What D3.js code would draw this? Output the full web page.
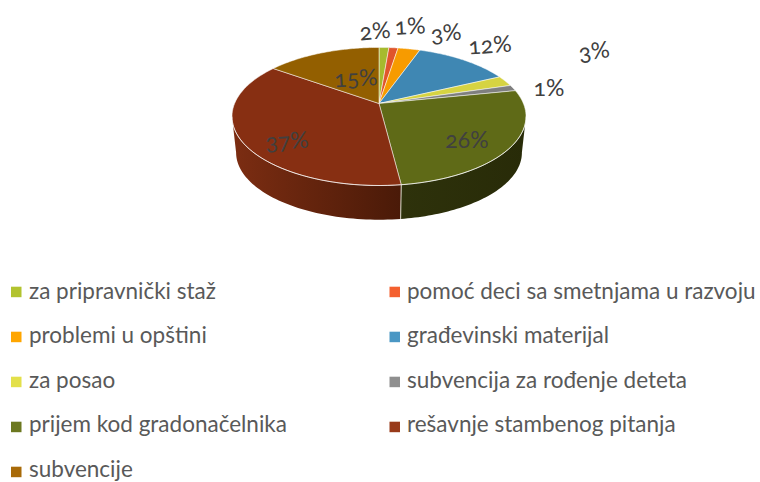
<!DOCTYPE html>
<html><head><meta charset="utf-8">
<script src="https://cdn.jsdelivr.net/npm/d3@7"></script>
<style>html,body{margin:0;padding:0;background:#fff}svg{display:block}
text{font-family:Lato,"Open Sans",sans-serif;font-variant-numeric:oldstyle-nums}</style>
</head><body><svg id="c" width="760" height="482"></svg>
<script>
const categories=["za pripravnički staž","pomoć deci sa smetnjama u razvoju","problemi u opštini","građevinski materijal","za posao","subvencija za rođenje deteta","prijem kod gradonačelnika","rešavnje stambenog pitanja","subvencije"];
const shares=[1.3,1.2,2.9,12.5,2.5,1.4,26.2,36.9,15.1];
const pctLabels=["2%","1%","3%","12%","3%","1%","26%","37%","15%"];
const faceColors=["#a6ba2e","#e0552b","#f79b00","#3f87b3","#d6d342","#7f7f7f","#5f6a17","#872f12","#935f00"];
const legendColors=["#b2c32f","#f4602f","#ffa600","#4a97c4","#e3e04a","#8f8f8f","#6c7820","#983a1a","#a86a08"];
const labelAnchors=[[375,31,-5],[410,26,-3],[446,33,-6],[490,45,-4],[594,51,-8],[549,88,0],[467,140,0],[287,141,-4],[356,78,-3]];

const svg=d3.select("#c");
const cx=379,cy=103.5,R=144.4,k=0.188,A=66.6,depth=36.5,shrink=0.972;
const project=(a,r,low)=>{
  const X=r*Math.sin(a),Y=-r*Math.cos(a),w=1-k*Y,s=low?shrink:1;
  return [cx+s*R*X/w,cy+(low?depth:0)+s*A*Y/w];
};
const arcPts=(a0,a1,low)=>d3.range(0,61).map(i=>project(a0+(a1-a0)*i/60,1,low));
const line=d3.line();
const arcs=d3.pie().sort(null).value(d=>d)(shares);
const defs=svg.append("defs");
const sideStops={6:["#2e320b","#282b08"],7:["#7c2d12","#4a1a08"]};
// the wall is visible between the two silhouette tangents of the perspective ellipse
const tangent=Math.acos(k);
const wallFrom=Math.PI-tangent,wallTo=Math.PI+tangent;

[7,6].forEach(i=>{
  const a=arcs[i],id="side"+i;
  const a0=Math.max(a.startAngle,wallFrom),a1=Math.min(a.endAngle,wallTo);
  const g=defs.append("linearGradient").attr("id",id).attr("gradientUnits","userSpaceOnUse");
  const top=arcPts(a0,a1,false),low=arcPts(a0,a1,true);
  const xs=d3.extent(top.concat(low),p=>p[0]);
  g.attr("x1",xs[0]).attr("x2",xs[1]).attr("y1",0).attr("y2",0);
  g.append("stop").attr("offset",0).attr("stop-color",sideStops[i][0]);
  g.append("stop").attr("offset",1).attr("stop-color",sideStops[i][1]);
  svg.append("path").attr("d",line(top.concat(low.reverse()))+"Z").attr("fill",`url(#${id})`);
});
const seam=arcs[6].endAngle;
svg.append("path").attr("d",line([project(seam,1,false),project(seam,1,true)]))
  .attr("stroke","#d9d6c8").attr("stroke-width",1).attr("fill","none");

arcs.forEach((a,i)=>{
  const pts=[[cx,cy]].concat(arcPts(a.startAngle,a.endAngle,false));
  svg.append("path").attr("d",line(pts)+"Z").attr("fill",faceColors[i])
    .attr("stroke","#fff").attr("stroke-opacity",0.5).attr("stroke-width",1).attr("stroke-linejoin","round");
});
// brighter rim along the front edge of the face
svg.append("path").attr("d",line(arcPts(wallFrom,wallTo,false)))
  .attr("fill","none").attr("stroke","#fff").attr("stroke-opacity",0.6).attr("stroke-width",1);

svg.append("g").selectAll("text").data(pctLabels).join("text")
  .attr("transform",(d,i)=>`translate(${labelAnchors[i][0]},${labelAnchors[i][1]}) rotate(${labelAnchors[i][2]})`)
  .attr("text-anchor","middle").attr("dy","0.35em").attr("font-size",23).attr("fill","#404040").text(d=>d);

const rowY=d3.scalePoint().domain(d3.range(5)).range([292,472]);
const textY=d3.scalePoint().domain(d3.range(5)).range([292,470]);
const colX=d3.scalePoint().domain([0,1]).range([11,389.5]);
const lg=svg.append("g").selectAll("g").data(categories).join("g")
  .attr("transform",(d,i)=>`translate(${colX(i%2)},0)`);
lg.append("rect").attr("x",0).attr("y",(d,i)=>rowY(Math.floor(i/2))-5.3).attr("width",10.5).attr("height",10.5).attr("fill",(d,i)=>legendColors[i]);
lg.append("text").attr("x",(d,i)=>i%2?17.5:18).attr("y",(d,i)=>textY(Math.floor(i/2))).attr("dy","0.3em").attr("font-size",22.5).attr("fill","#595959").text(d=>d);
</script></body></html>
